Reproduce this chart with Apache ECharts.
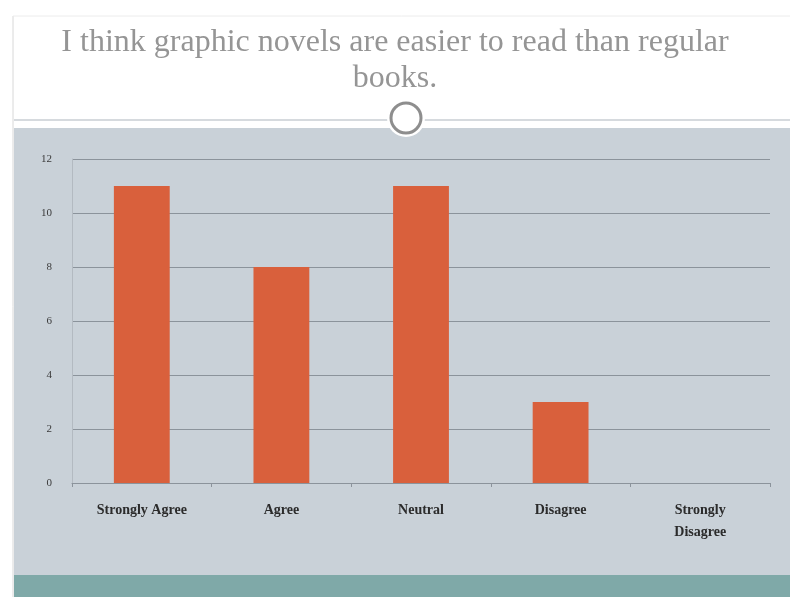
<!DOCTYPE html>
<html>
<head>
<meta charset="utf-8">
<script src="https://cdn.jsdelivr.net/npm/echarts@6/dist/echarts.min.js"></script>
<style>
  html, body { margin: 0; padding: 0; background: #fff; }
  #chart { width: 790px; height: 597px; }
</style>
</head>
<body>
<div id="chart"></div>
<script>
const titleText = 'I think graphic novels are easier to read than regular\nbooks.';
const categories = ['Strongly Agree', 'Agree', 'Neutral', 'Disagree', 'Strongly\nDisagree'];
const responses = [11, 8, 11, 3, 0];
const yTicks = [0, 2, 4, 6, 8, 10, 12];

const chart = echarts.init(document.getElementById('chart'));

chart.setOption({
    backgroundColor: '#ffffff',
    animation: false,
    graphic: [
        // slide frame
        { type: 'line', shape: { x1: 13, y1: 16, x2: 13, y2: 597 }, style: { stroke: '#d8d8d8', lineWidth: 1 }, z: -10 },
        { type: 'line', shape: { x1: 13, y1: 16, x2: 790, y2: 16 }, style: { stroke: '#ececec', lineWidth: 1 }, z: -10 },
        // grey panel
        { type: 'rect', shape: { x: 14, y: 128, width: 776, height: 447 }, style: { fill: '#c9d1d8' }, z: -10 },
        // teal footer
        { type: 'rect', shape: { x: 14, y: 575, width: 776, height: 22 }, style: { fill: '#7fa9a8' }, z: -10 },
        // divider line + circle
        { type: 'line', shape: { x1: 14, y1: 120, x2: 790, y2: 120 }, style: { stroke: '#d6dade', lineWidth: 2 }, z: -9 },
        { type: 'circle', shape: { cx: 406, cy: 118, r: 19 }, style: { fill: '#ffffff' }, z: -8 },
        { type: 'circle', shape: { cx: 406, cy: 118, r: 15 }, style: { fill: '#ffffff', stroke: '#8e8e8e', lineWidth: 3 }, z: -7 }
    ],
    title: {
        text: titleText,
        left: 'center',
        top: 20,
        textStyle: {
            fontFamily: 'Liberation Serif',
            fontWeight: 'normal',
            fontSize: 32,
            lineHeight: 36,
            color: '#959595'
        }
    },
    grid: { left: 72, right: 20, top: 159, bottom: 114 },
    xAxis: {
        type: 'category',
        data: categories,
        axisLine: { lineStyle: { color: '#8b939b', width: 1 } },
        axisTick: { show: true, alignWithLabel: false, length: 4, lineStyle: { color: '#8b939b' } },
        axisLabel: {
            interval: 0,
            margin: 16,
            fontFamily: 'Liberation Serif',
            fontWeight: 'bold',
            fontSize: 14,
            lineHeight: 22,
            color: '#2b2b2b'
        }
    },
    yAxis: {
        type: 'value',
        min: yTicks[0],
        max: yTicks[yTicks.length - 1],
        interval: 2,
        axisLine: { show: true, lineStyle: { color: '#b3bac1' } },
        axisTick: { show: false },
        splitLine: { lineStyle: { color: '#8b939b', width: 1 } },
        axisLabel: {
            margin: 20,
            fontFamily: 'Liberation Serif',
            fontSize: 11,
            color: '#3a3a3a'
        }
    },
    series: [
        {
            type: 'bar',
            data: responses,
            barWidth: '40%',
            itemStyle: { color: '#d9603c' }
        }
    ]
});
</script>
</body>
</html>
